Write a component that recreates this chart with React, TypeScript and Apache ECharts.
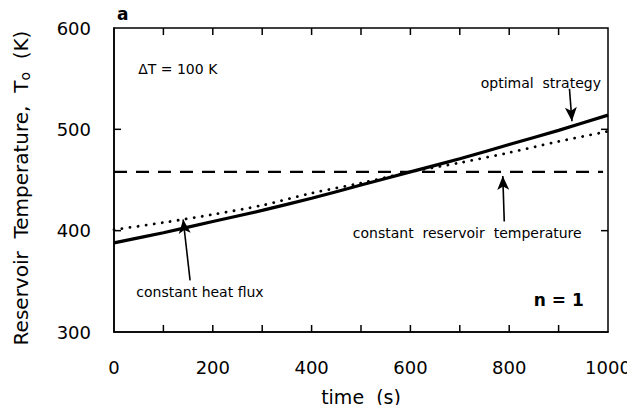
import React, { useEffect, useRef } from "react";
import * as echarts from "echarts";

const times = [0, 100, 200, 300, 400, 500, 600, 700, 800, 900, 1000];
const optimalStrategy = [388, 398, 409, 420, 432, 445, 458, 471, 485, 499, 514];
const constantHeatFlux = [401, 408, 416, 425, 437, 447, 458, 467, 477, 488, 498];
const reservoirTimes = [0, 990];
const reservoirTemp = [458, 458];
const xTickValues = [100, 200, 300, 400, 500, 600, 700, 800, 900];
const yTickValues = [400, 500];

const FONT = "DejaVu Sans";
const xFmt = (v: number) => String(v);

export default function App() {
  const ref = useRef<HTMLDivElement>(null);
  useEffect(() => {
    if (!ref.current) return;
    const chart = echarts.init(ref.current, undefined, { renderer: "svg" });
    const arrowLine = (from: number[], to: number[]) => [
      { coord: from, symbol: "none" },
      { coord: to, symbol: "arrow", symbolSize: [9, 14] },
    ];
    // tick data: [value, kind] kind 0 = x tick, 1 = y tick
    const tickData: number[][] = [
      ...xTickValues.map((v) => [v, 0]),
      ...yTickValues.map((v) => [v, 1]),
    ];
    const TL = 7;
    chart.setOption({
      animation: false,
      backgroundColor: "#fff",
      grid: { left: 114, right: 27, top: 28, bottom: 81, containLabel: false, show: true, borderColor: "#000", borderWidth: 1.5 },
      xAxis: {
        type: "value",
        min: 0,
        max: 1000,
        interval: 200,
        name: "time  (s)",
        nameLocation: "middle",
        nameGap: 55,
        nameTextStyle: { fontFamily: FONT, fontSize: 19, color: "#000" },
        axisLine: { show: true, onZero: false, lineStyle: { color: "#000", width: 1.5 } },
        axisTick: { show: false },
        splitLine: { show: false },
        axisLabel: { margin: 26, fontFamily: FONT, fontSize: 18, color: "#000", formatter: xFmt },
      },
      yAxis: {
        type: "value",
        min: 300,
        max: 600,
        interval: 100,
        name: "Reservoir  Temperature,  T{sub|o}  (K)",
        nameLocation: "middle",
        nameGap: 82,
        nameRotate: 90,
        nameTextStyle: {
          fontFamily: FONT,
          fontSize: 20,
          color: "#000",
          padding: [0, 16, 0, 0],
          rich: { sub: { fontFamily: FONT, fontSize: 14, color: "#000", verticalAlign: "bottom", padding: [9, 0, 0, 0] } },
        },
        axisLine: { show: true, onZero: false, lineStyle: { color: "#000", width: 1.5 } },
        axisTick: { show: false },
        splitLine: { show: false },
        axisLabel: { margin: 23, fontFamily: FONT, fontSize: 18, color: "#000" },
      },
      series: [
        {
          type: "line",
          name: "optimal strategy",
          data: times.map((t, i) => [t, optimalStrategy[i]]),
          showSymbol: false,
          smooth: 0.3,
          lineStyle: { color: "#000", width: 3.2 },
          markLine: {
            silent: true,
            lineStyle: { color: "#000", width: 1.6, type: "solid" },
            label: { show: false },
            data: [
              arrowLine([922, 540], [927, 508]),
              arrowLine([790, 409], [787, 454]),
              arrowLine([154, 351], [140, 411]),
            ],
          },
        },
        {
          type: "line",
          name: "constant heat flux",
          data: times.map((t, i) => [t, constantHeatFlux[i]]),
          showSymbol: false,
          smooth: 0.3,
          lineStyle: { color: "#000", width: 2.8, type: [0.1, 8], cap: "round" },
        },
        {
          type: "line",
          name: "constant reservoir temperature",
          data: reservoirTimes.map((t, i) => [t, reservoirTemp[i]]),
          showSymbol: false,
          lineStyle: { color: "#000", width: 2.4, type: [13, 9] },
        },
        {
          type: "custom",
          name: "ticks",
          silent: true,
          clip: false,
          z: 10,
          data: tickData,
          encode: { x: -1, y: -1 },
          renderItem: (params: any, api: any) => {
            const v = api.value(0);
            const kind = api.value(1);
            const style = { stroke: "#000", lineWidth: 1.5, fill: "none" };
            if (kind === 0) {
              const pb = api.coord([v, 300]);
              const pt = api.coord([v, 600]);
              return {
                type: "group",
                children: [
                  { type: "line", shape: { x1: pb[0], y1: pb[1], x2: pb[0], y2: pb[1] - TL }, style },
                  { type: "line", shape: { x1: pt[0], y1: pt[1], x2: pt[0], y2: pt[1] + TL }, style },
                ],
              };
            }
            const pl = api.coord([0, v]);
            const pr = api.coord([1000, v]);
            return {
              type: "group",
              children: [
                { type: "line", shape: { x1: pl[0], y1: pl[1], x2: pl[0] + TL, y2: pl[1] }, style },
                { type: "line", shape: { x1: pr[0], y1: pr[1], x2: pr[0] - TL, y2: pr[1] }, style },
              ],
            };
          },
        },
      ],
    });

    const px = (t: number, T: number) => chart.convertToPixel({ gridIndex: 0 }, [t, T]) as number[];
    const txt = (t: number, T: number, text: string, align: string, size = 14, weight = "normal") => {
      const [x, y] = px(t, T);
      return {
        type: "text",
        x,
        y,
        style: { text, fontFamily: FONT, fontSize: size, fontWeight: weight, fill: "#000", align, verticalAlign: "middle" },
      };
    };
    chart.setOption({
      graphic: [
        txt(6, 614, "a", "left", 17, "bold"),
        txt(49, 560, "ΔT = 100 K", "left"),
        txt(864, 546, "optimal  strategy", "center"),
        txt(715, 398, "constant  reservoir  temperature", "center"),
        txt(174, 339, "constant heat flux", "center"),
        txt(951, 332, "n = 1", "right", 17, "bold"),
      ],
    });
    return () => chart.dispose();
  }, []);
  return <div ref={ref} style={{ width: 635, height: 413, margin: -8 }} />;
}
